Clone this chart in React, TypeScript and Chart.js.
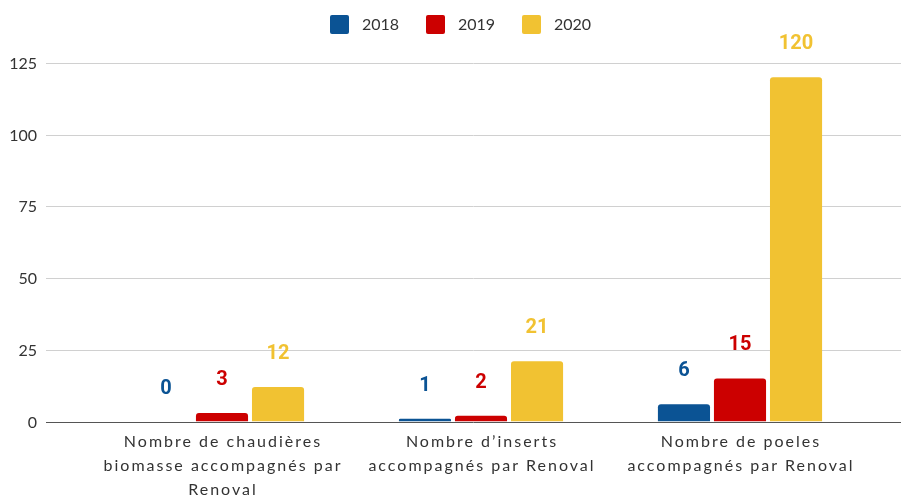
import React, { useEffect, useRef } from "react";
import { Chart, registerables } from "chart.js";

Chart.register(...registerables);

const categories: string[][] = [
  ["Nombre de chaudières", "biomasse accompagnés par", "Renoval"],
  ["Nombre d’inserts", "accompagnés par Renoval"],
  ["Nombre de poeles", "accompagnés par Renoval"],
];
const seriesNames = ["2018", "2019", "2020"];
const values2018 = [0, 1, 6];
const values2019 = [3, 2, 15];
const values2020 = [12, 21, 120];
const yTicks = [0, 25, 50, 75, 100, 125];
const colors = ["#0b5394", "#cc0000", "#f1c232"];

const customPlugin = {
  id: "custom",
  beforeDatasetsDraw(chart: any) {
    const ctx = chart.ctx;
    const y = chart.scales.y;
    ctx.save();
    yTicks.forEach((t) => {
      const py = Math.round(y.getPixelForValue(t)) + 0.5;
      ctx.beginPath();
      ctx.moveTo(46, py);
      ctx.lineTo(901, py);
      ctx.lineWidth = 1;
      ctx.strokeStyle = t === 0 ? "#555555" : "#d0d0d0";
      ctx.stroke();
      ctx.fillStyle = "#333333";
      ctx.font = "16px Lato";
      ctx.textAlign = "right";
      ctx.textBaseline = "middle";
      ctx.fillText(String(t), 37, py);
    });
    ctx.restore();
  },
  afterDraw(chart: any) {
    const ctx = chart.ctx;
    const x = chart.scales.x;
    ctx.save();
    // x labels
    ctx.fillStyle = "#333333";
    ctx.font = "16px Lato";
    (ctx as any).letterSpacing = "2px";
    ctx.textAlign = "center";
    ctx.textBaseline = "alphabetic";
    categories.forEach((lines, i) => {
      const cx = x.getPixelForValue(i) + 1;
      lines.forEach((ln, j) => {
        ctx.fillText(ln, cx, 447 + j * 24);
      });
    });
    (ctx as any).letterSpacing = "0px";
    // data labels
    ctx.font = "bold 20px Roboto";
    chart.data.datasets.forEach((ds: any, di: number) => {
      const meta = chart.getDatasetMeta(di);
      meta.data.forEach((bar: any, i: number) => {
        ctx.fillStyle = colors[di];
        ctx.fillText(String(ds.data[i]), bar.x, bar.y - 28);
      });
    });
    // legend
    const startX = 330;
    ctx.font = "16px Lato";
    ctx.textAlign = "left";
    ctx.textBaseline = "middle";
    seriesNames.forEach((name, i) => {
      const bx = startX + i * 96;
      ctx.fillStyle = colors[i];
      ctx.beginPath();
      (ctx as any).roundRect(bx, 15, 19, 19, 2);
      ctx.fill();
      ctx.fillStyle = "#333333";
      ctx.fillText(name, bx + 32, 24.5);
    });
    ctx.restore();
  },
};

export default function App() {
  const ref = useRef<HTMLCanvasElement | null>(null);
  useEffect(() => {
    if (!ref.current) return;
    const chart = new Chart(ref.current, {
      type: "bar",
      data: {
        labels: categories.map((c) => c.join(" ")),
        datasets: [values2018, values2019, values2020].map((d, i) => ({
          label: seriesNames[i],
          data: d,
          backgroundColor: colors[i],
          borderRadius: { topLeft: 3, topRight: 3, bottomLeft: 0, bottomRight: 0 },
          borderSkipped: "start",
          categoryPercentage: 0.649,
          barPercentage: 0.93,
        })),
      },
      options: {
        animation: false,
        responsive: true,
        maintainAspectRatio: false,
        layout: { padding: { left: 92.5, right: 31.5, top: 63, bottom: 73.5 } },
        plugins: { legend: { display: false }, tooltip: { enabled: false } },
        scales: {
          x: { display: false },
          y: { display: false, min: 0, max: 125 },
        },
      },
      plugins: [customPlugin],
    });
    return () => chart.destroy();
  }, []);
  return (
    <div style={{ position: "absolute", left: 0, top: 0, width: 901, height: 495, background: "#fff" }}>
      <canvas ref={ref} />
    </div>
  );
}
